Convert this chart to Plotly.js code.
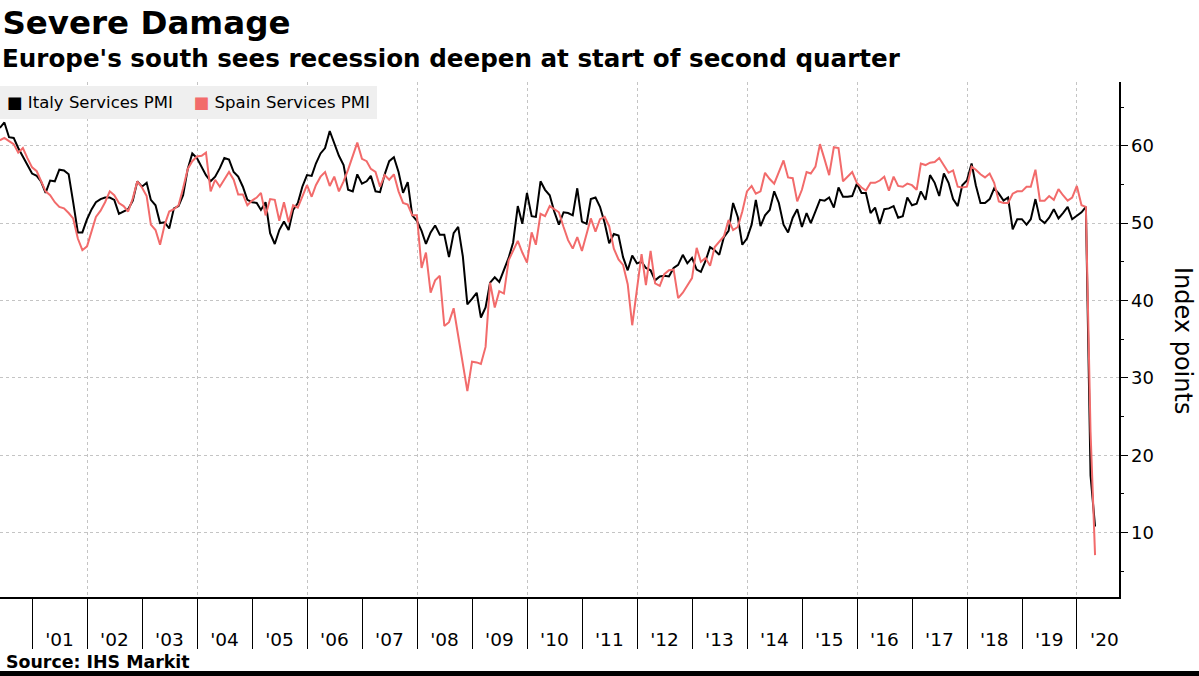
<!DOCTYPE html>
<html><head><meta charset="utf-8">
<script src="https://cdn.plot.ly/plotly-3.0.1.min.js"></script>
<style>html,body{margin:0;padding:0;background:#fff;overflow:hidden}#chart{width:1199px;height:676px}</style>
</head><body><div id="chart"></div>
<script>
// Monthly observations (month-end), May 2000 .. Apr 2020
const START_YEAR = 2000;
const START_MONTH = 5;

const italy = [
62.3,63.0,61.1,61.0,59.7,58.6,57.5,56.4,56.1,55.4,53.9,55.5,55.4,56.9,56.8,56.3,52.7,48.8,48.8,50.5,
51.8,52.7,53.1,53.3,53.3,53.0,51.2,51.5,51.8,52.9,55.4,54.7,55.2,53.0,52.3,50.0,50.1,49.3,51.9,52.2,
53.6,57.0,59.0,58.4,57.3,56.2,55.4,56.0,57.1,58.4,58.2,56.6,56.0,54.7,53.0,52.7,52.6,51.7,52.7,48.7,
47.3,49.1,50.2,49.1,51.7,52.6,54.7,56.2,56.1,57.7,59.0,59.7,61.9,60.3,58.7,57.5,54.3,54.1,56.3,55.1,
55.4,56.1,54.1,54.0,56.3,58.0,58.5,56.6,53.9,55.3,51.0,50.3,49.0,47.3,48.8,49.7,48.5,48.5,45.6,48.7,
49.5,45.7,39.5,40.2,41.0,37.8,39.1,42.3,43.0,42.4,44.0,45.5,47.5,52.2,49.9,53.9,50.9,50.8,55.4,54.3,
53.6,51.5,49.8,51.4,51.3,51.0,54.5,50.2,49.9,53.1,53.3,52.1,50.0,47.4,48.6,48.4,45.6,43.9,45.8,44.8,
45.0,44.2,43.9,42.6,43.1,43.2,43.1,44.2,44.6,45.9,44.8,45.5,44.0,43.7,45.1,46.9,46.5,45.9,48.2,49.0,
52.6,50.8,47.2,48.0,49.8,53.0,49.6,51.0,51.7,54.1,52.6,49.8,48.8,50.7,51.8,49.5,51.3,50.0,51.5,53.0,
52.9,53.3,52.0,54.6,53.4,53.4,53.5,55.1,53.9,53.9,51.3,52.0,49.9,51.8,51.9,52.2,50.7,50.9,53.3,52.3,
52.5,54.1,53.0,56.2,55.2,53.5,56.4,55.2,53.1,52.2,54.9,55.5,57.7,54.9,52.6,52.6,53.1,54.5,53.8,52.9,
53.3,49.2,50.5,50.5,49.8,50.5,53.1,50.5,50.0,50.7,51.8,50.6,51.3,52.1,50.5,51.0,51.4,52.1,17.4,10.8
];

const spain = [
60.7,61.0,60.6,60.2,59.1,59.7,58.4,57.2,56.7,55.4,54.1,53.6,52.7,52.1,51.9,51.3,50.6,48.0,46.5,47.0,
49.1,50.8,51.6,52.7,54.1,53.6,52.6,52.2,51.5,53.2,55.4,54.6,53.5,49.8,49.1,47.2,49.8,51.5,51.8,52.3,
54.5,57.0,58.0,58.6,58.7,59.1,54.1,55.6,54.7,55.6,56.6,55.6,53.7,53.7,52.3,52.9,53.3,53.9,51.0,53.1,
53.0,50.3,52.7,50.1,52.3,52.0,53.4,54.9,53.4,54.9,56.0,56.6,54.8,56.0,54.1,55.4,56.9,58.8,60.4,58.3,
58.0,57.0,56.6,54.7,56.2,55.6,56.3,54.1,52.6,52.4,51.0,51.0,44.2,46.2,41.0,42.6,43.2,36.7,37.2,39.0,
35.5,31.8,28.3,32.1,32.0,31.8,34.0,42.3,39.1,41.2,40.9,45.2,46.5,47.7,46.2,44.9,48.8,47.2,51.2,50.9,
52.2,51.8,51.4,49.5,47.8,46.7,48.2,46.4,48.8,50.6,48.9,50.5,50.8,49.6,46.7,45.3,44.6,42.1,36.8,41.3,
46.0,42.0,46.4,42.2,41.9,43.4,43.9,44.0,40.3,41.0,42.0,42.9,46.8,45.0,45.5,44.5,46.9,47.6,48.3,50.4,
49.1,49.5,51.5,54.1,54.8,53.8,54.1,56.5,55.7,55.1,56.6,58.1,55.9,55.8,52.8,54.3,56.6,56.4,57.3,60.2,
58.2,56.2,59.8,59.7,55.4,56.0,56.6,55.2,54.6,54.2,55.2,55.2,55.5,56.0,54.2,56.0,54.8,54.7,55.1,54.9,
54.3,57.7,57.5,57.8,57.9,58.4,57.5,56.5,56.8,54.7,54.6,54.7,57.3,56.9,56.3,55.9,56.4,55.2,52.8,52.6,
52.6,53.8,54.1,54.1,54.7,54.7,56.9,52.9,52.9,53.5,53.0,54.4,53.6,52.9,53.3,54.8,52.3,52.1,23.0,7.1
];

const labelYears = [2001,2002,2003,2004,2005,2006,2007,2008,2009,2010,2011,2012,2013,2014,2015,2016,2017,2018,2019,2020];
const tickLabels = ["'01","'02","'03","'04","'05","'06","'07","'08","'09","'10","'11","'12","'13","'14","'15","'16","'17","'18","'19","'20"];
const gridYears = [2002,2004,2006,2008,2010,2012,2014,2016,2018,2020];
const seriesNames = ['Italy Services PMI', 'Spain Services PMI'];
const seriesColors = ['#000000', '#f26b6b'];

function monthEnd(k) {
  const d = new Date(Date.UTC(START_YEAR, START_MONTH - 1 + k + 1, 0));
  return d.toISOString().slice(0, 10);
}
const dates = italy.map((_, k) => monthEnd(k));

const FONT = 'DejaVu Sans, Verdana, sans-serif';
const GRID = '#c4c4c4';

// plot area geometry helpers (pixels -> paper)
const W = 1199, H = 676, ML = 0, MR = 80, MT = 82, MB = 79;
const PH = H - MT - MB, PW = W - ML - MR;
const py = p => (H - MB - p) / PH;
const px = p => (p - ML) / PW;

const traces = [
  {x: dates, y: italy, name: seriesNames[0], mode: 'lines', xaxis: 'x', yaxis: 'y',
   line: {color: seriesColors[0], width: 2}, showlegend: false, hoverinfo: 'skip'},
  {x: dates, y: spain, name: seriesNames[1], mode: 'lines', xaxis: 'x2', yaxis: 'y',
   line: {color: seriesColors[1], width: 2}, showlegend: false, hoverinfo: 'skip'}
];

const legendText =
  '<span style="color:' + seriesColors[0] + '">\u25A0</span> ' + seriesNames[0] +
  '\u00A0\u00A0\u00A0 <span style="color:' + seriesColors[1] + '">\u25A0</span> ' + seriesNames[1];

const layout = {
  width: W, height: H,
  margin: {l: ML, r: MR, t: MT, b: MB, pad: 0},
  paper_bgcolor: '#ffffff', plot_bgcolor: '#ffffff',
  showlegend: false,
  title: {text: '<b>Severe Damage</b>', x: 0.002, xref: 'container', xanchor: 'left',
          y: 1 - 23 / H, yref: 'container', yanchor: 'middle',
          font: {family: FONT, size: 32.5, color: '#000'}, pad: {l: 0, t: 0}},
  xaxis: {
    type: 'date', range: ['2000-06-01', '2020-10-06'],
    tickmode: 'array', tickvals: labelYears.map(y => y + '-07-01'), ticktext: tickLabels,
    ticks: '', showgrid: false, zeroline: false,
    showline: true, linecolor: '#000', linewidth: 1.5,
    ticklabelstandoff: 25,
    tickfont: {family: FONT, size: 18.5, color: '#000'},
    minor: {dtick: 'M12', tick0: '2001-01-01', ticks: 'outside', ticklen: 50,
            tickcolor: '#000', tickwidth: 1, showgrid: false},
    fixedrange: true
  },
  xaxis2: {
    type: 'date', overlaying: 'x', matches: 'x', anchor: 'y', side: 'bottom',
    range: ['2000-06-01', '2020-10-06'],
    tickmode: 'array', tickvals: gridYears.map(y => y + '-01-01'),
    showticklabels: false, ticks: '', showline: false, zeroline: false,
    showgrid: true, gridcolor: GRID, griddash: 'dot', gridwidth: 1,
    fixedrange: true
  },
  yaxis: {
    side: 'right', range: [1.69, 68.23],
    tick0: 0, dtick: 10, ticks: 'outside', ticklen: 7, tickcolor: '#000', tickwidth: 1,
    showline: true, linecolor: '#000', linewidth: 1.5,
    showgrid: true, gridcolor: GRID, griddash: 'dot', gridwidth: 1,
    zeroline: false,
    tickfont: {family: FONT, size: 18, color: '#000'},
    minor: {dtick: 5, tick0: 0, ticks: 'outside', ticklen: 3, tickcolor: '#000', showgrid: false},
    fixedrange: true
  },
  annotations: [
    {text: "<b>Europe's south sees recession deepen at start of second quarter</b>",
     xref: 'paper', yref: 'paper', x: px(0), y: py(59), xanchor: 'left', yanchor: 'middle',
     showarrow: false, font: {family: FONT, size: 24.6, color: '#000'}},
    {text: legendText, xref: 'paper', yref: 'paper', x: px(0), y: py(102),
     xanchor: 'left', yanchor: 'middle', showarrow: false, align: 'left',
     bgcolor: '#efefef', borderpad: 7, borderwidth: 0,
     font: {family: FONT, size: 16.5, color: '#000'}},
    {text: 'Index points', xref: 'paper', yref: 'paper', x: px(1183), y: py(340),
     xanchor: 'center', yanchor: 'middle', textangle: 90, showarrow: false,
     font: {family: FONT, size: 24, color: '#000'}},
    {text: '<b>Source: IHS Markit</b>', xref: 'paper', yref: 'paper', x: px(4), y: py(662),
     xanchor: 'left', yanchor: 'middle', showarrow: false,
     font: {family: FONT, size: 17.4, color: '#000'}}
  ],
  shapes: [
    {type: 'rect', xref: 'paper', yref: 'paper', x0: px(0), x1: px(W), y0: py(676), y1: py(671),
     fillcolor: '#000', line: {width: 0}, layer: 'above'}
  ]
};

Plotly.newPlot('chart', traces, layout, {displayModeBar: false, staticPlot: true});
</script>
</body></html>
